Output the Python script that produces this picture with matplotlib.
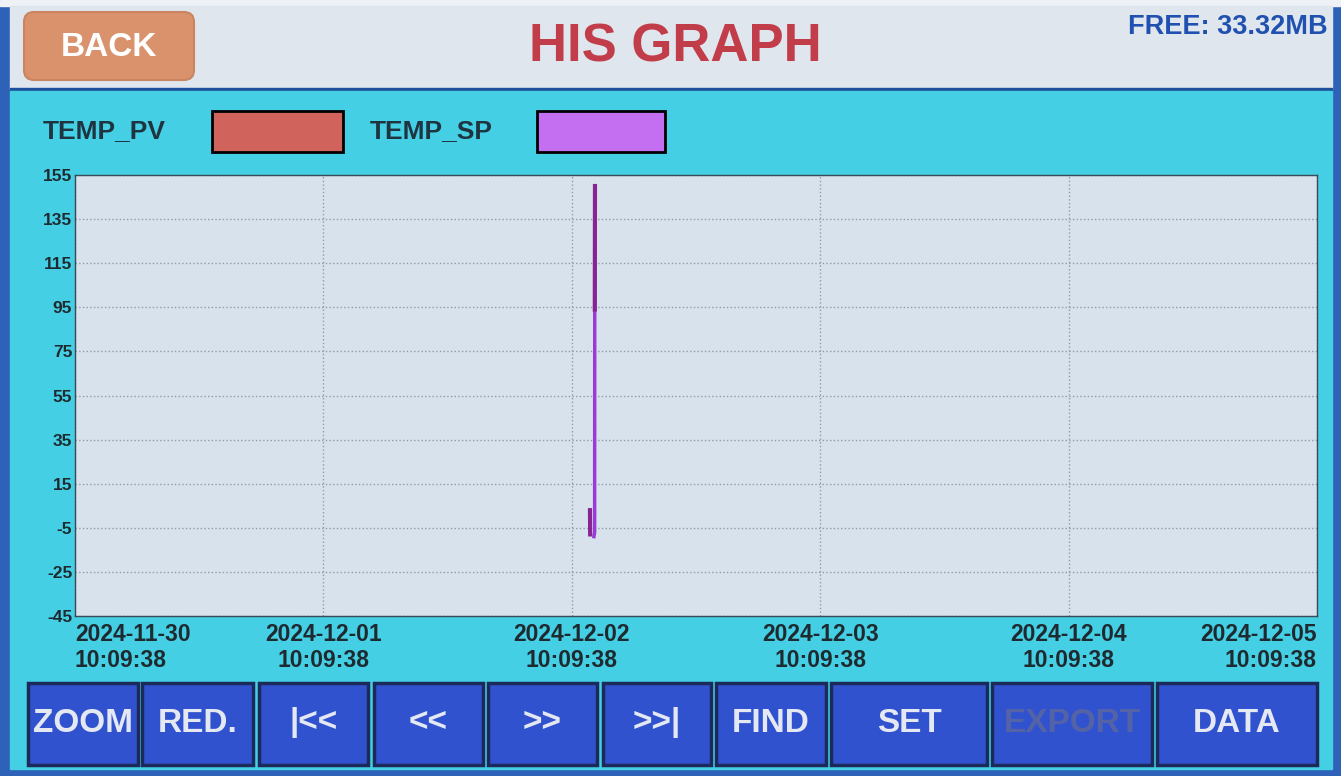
import matplotlib
matplotlib.use("Agg")
import matplotlib.pyplot as plt
from matplotlib.patches import Rectangle, FancyBboxPatch
import pandas as pd
import numpy as np

plt.rcParams['font.family'] = ['Liberation Sans', 'DejaVu Sans']
plt.rcParams['font.weight'] = 'bold'

pv_times = pd.to_datetime(['2024-12-02 11:55', '2024-12-02 11:56', '2024-12-02 12:10',
                           '2024-12-02 12:23', '2024-12-02 12:24'])
pv_values = [3, -8, np.nan, 94, 150]
sp_times = pd.to_datetime(['2024-12-02 12:18', '2024-12-02 12:22', '2024-12-02 12:23'])
sp_values = [-9, -7, 150]

x_start = pd.Timestamp('2024-11-30 10:09:38')
x_ticks = pd.date_range(x_start, periods=6, freq='D')
x_labels = [t.strftime('%Y-%m-%d\n%H:%M:%S') for t in x_ticks]
y_ticks = list(range(-45, 156, 20))

buttons = ['ZOOM', 'RED.', '|<<', '<<', '>>', '>>|', 'FIND', 'SET', 'EXPORT', 'DATA']
button_x = [(28, 138), (142, 253), (259, 368), (374, 483), (488, 597), (603, 711),
            (716, 826), (831, 987), (992, 1152), (1157, 1317)]

W, H = 1341, 776
fig = plt.figure(figsize=(W / 100, H / 100), dpi=100, facecolor='#2d62b8')

# fondo de la pantalla en pixeles
bg = fig.add_axes([0, 0, 1, 1])
bg.set_xlim(0, W)
bg.set_ylim(H, 0)
bg.axis('off')
bg.add_patch(Rectangle((0, 0), W, 6, color='#eef2f6'))
bg.add_patch(Rectangle((10, 6), 1322, 84, color='#dfe6ee'))
bg.add_patch(Rectangle((10, 88), 1322, 3, color='#1d4f9a'))
bg.add_patch(Rectangle((10, 91), 1322, 678, color='#44cfe4'))

bg.add_patch(FancyBboxPatch((24, 12), 170, 68, boxstyle='round,pad=0,rounding_size=10',
                            facecolor='#d9926c', edgecolor='#c98560', lw=1.5))
bg.text(109, 47, 'BACK', color='white', fontsize=24, ha='center', va='center')
bg.text(675, 48, 'HIS GRAPH', color='#c23d4a', fontsize=38, ha='center', va='center')
bg.text(1328, 27, 'FREE: 33.32MB', color='#2151b0', fontsize=19.5, ha='right', va='center')

# leyenda
bg.text(43, 131, 'TEMP_PV', color='#1e3440', fontsize=19, va='center')
bg.add_patch(Rectangle((212, 111), 131, 41, facecolor='#d0645c', edgecolor='black', lw=2))
bg.text(370, 131, 'TEMP_SP', color='#1e3440', fontsize=19, va='center')
bg.add_patch(Rectangle((537, 111), 128, 41, facecolor='#c46ff2', edgecolor='black', lw=2))

# botones
for name, (x0, x1) in zip(buttons, button_x):
    bg.add_patch(Rectangle((x0, 683), x1 - x0, 82, facecolor='#3152cf',
                           edgecolor='#1c2a5a', lw=2.5))
    col = '#5463a6' if name == 'EXPORT' else '#e4e8f2'
    bg.text((x0 + x1) / 2, 723, name, color=col, fontsize=24, ha='center', va='center')

# grafico
ax = fig.add_axes([75 / W, 1 - 616 / H, 1242 / W, 441 / H])
ax.set_facecolor('#d8e2ec')
ax.plot(sp_times, sp_values, color='#9a3ad8', lw=2.5)
ax.plot(pv_times, pv_values, color='#862494', lw=3)

ax.set_xlim(x_ticks[0], x_ticks[-1])
ax.set_ylim(-45, 155)
ax.set_xticks(x_ticks)
ax.set_xticklabels(x_labels, fontsize=16.5, color='#1e2a30', linespacing=1.15)
for i, lab in enumerate(ax.get_xticklabels()):
    if i == 0:
        lab.set_ha('left')
    elif i == len(x_ticks) - 1:
        lab.set_ha('right')
ax.set_yticks(y_ticks)
ax.set_yticklabels([str(v) for v in y_ticks], fontsize=12.5, color='#1e2a30')
ax.tick_params(axis='x', length=0, pad=5)
ax.tick_params(axis='y', length=0, pad=2)
ax.grid(True, color='#8e9ca8', linestyle=':', lw=1)
for s in ax.spines.values():
    s.set_color('#3a4a58')
    s.set_linewidth(1)

plt.savefig('out.png', dpi=100, facecolor=fig.get_facecolor())
